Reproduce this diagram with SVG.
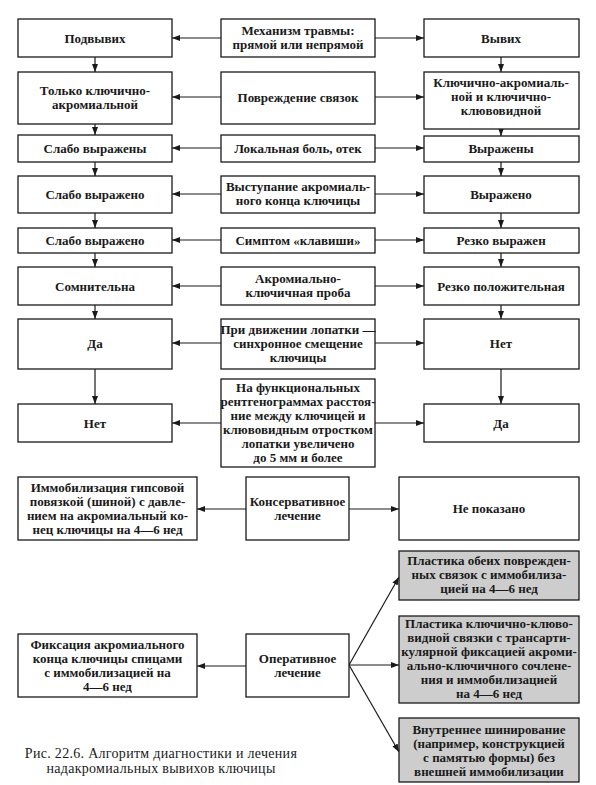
<svg xmlns="http://www.w3.org/2000/svg" width="596" height="785" viewBox="0 0 596 785">
<defs>
<marker id="ah" viewBox="0 0 8 6" markerWidth="8" markerHeight="6" refX="8" refY="3" orient="auto" markerUnits="userSpaceOnUse">
<path d="M0,0 L8,3 L0,6 z" fill="#1a1a1a"/>
</marker>
<style>
rect{fill:#fff;stroke:#1a1a1a;stroke-width:1.3}
rect.g{fill:#cdcdcd}
text{font-family:"Liberation Serif","DejaVu Serif",serif;font-size:13px;font-weight:bold;fill:#1a1a1a;text-anchor:middle}
text.cap{font-weight:normal;font-size:14px;letter-spacing:0.3px}
.c line{stroke:#1a1a1a;stroke-width:1.2;marker-end:url(#ah)}
</style>
</defs>
<rect x="0" y="0" width="596" height="785" style="fill:#fff;stroke:none"/>
<g class="c" id="connectors">
<line x1="221" y1="38" x2="172" y2="38"/>
<line x1="375" y1="38" x2="424" y2="38"/>
<line x1="221" y1="97" x2="172" y2="97"/>
<line x1="375" y1="97" x2="424" y2="97"/>
<line x1="221" y1="148" x2="172" y2="148"/>
<line x1="375" y1="148" x2="424" y2="148"/>
<line x1="221" y1="194" x2="172" y2="194"/>
<line x1="375" y1="194" x2="424" y2="194"/>
<line x1="221" y1="240" x2="172" y2="240"/>
<line x1="375" y1="240" x2="424" y2="240"/>
<line x1="221" y1="286" x2="172" y2="286"/>
<line x1="375" y1="286" x2="424" y2="286"/>
<line x1="221" y1="343" x2="172" y2="343"/>
<line x1="375" y1="343" x2="424" y2="343"/>
<line x1="221" y1="423" x2="172" y2="423"/>
<line x1="375" y1="423" x2="424" y2="423"/>
<line x1="95" y1="57" x2="95" y2="72"/>
<line x1="95" y1="124" x2="95" y2="135"/>
<line x1="95" y1="162" x2="95" y2="176"/>
<line x1="95" y1="213" x2="95" y2="228"/>
<line x1="95" y1="253" x2="95" y2="267"/>
<line x1="95" y1="305" x2="95" y2="319"/>
<line x1="95" y1="369" x2="95" y2="404"/>
<line x1="501" y1="57" x2="501" y2="72"/>
<line x1="501" y1="129" x2="501" y2="136"/>
<line x1="501" y1="162" x2="501" y2="176"/>
<line x1="501" y1="213" x2="501" y2="228"/>
<line x1="501" y1="253" x2="501" y2="267"/>
<line x1="501" y1="305" x2="501" y2="319"/>
<line x1="501" y1="369" x2="501" y2="404"/>
<line x1="246" y1="509" x2="197" y2="509"/>
<line x1="349" y1="509" x2="399" y2="509"/>
<line x1="246" y1="666" x2="197" y2="666"/>
<line x1="349" y1="665" x2="399" y2="577"/>
<line x1="349" y1="665" x2="399" y2="665"/>
<line x1="349" y1="665" x2="399" y2="752"/>
</g>
<g id="n_mech"><rect x="221" y="19" width="154" height="38"/><text x="298" y="35">Механизм травмы:</text><text x="298" y="49">прямой или непрямой</text></g>
<g id="n_podv"><rect x="18" y="19" width="154" height="38"/><text x="95" y="42.5">Подвывих</text></g>
<g id="n_vyv"><rect x="424" y="19" width="155" height="38"/><text x="501" y="42.5">Вывих</text></g>
<g id="n_povr"><rect x="221" y="72" width="154" height="52"/><text x="298" y="102">Повреждение связок</text></g>
<g id="n_tolko"><rect x="18" y="72" width="154" height="52"/><text x="95" y="95">Только ключично-</text><text x="95" y="109">акромиальной</text></g>
<g id="n_kluch"><rect x="424" y="72" width="155" height="57"/><text x="501" y="87">Ключично-акромиаль-</text><text x="501" y="101">ной и ключично-</text><text x="501" y="115">клювовидной</text></g>
<g id="n_bol"><rect x="221" y="135" width="154" height="27"/><text x="298" y="153">Локальная боль, отек</text></g>
<g id="n_sl1"><rect x="18" y="135" width="154" height="27"/><text x="95" y="153">Слабо выражены</text></g>
<g id="n_vyr1"><rect x="424" y="136" width="155" height="26"/><text x="501" y="153">Выражены</text></g>
<g id="n_vyst"><rect x="221" y="176" width="154" height="37"/><text x="298" y="191">Выступание акромиаль-</text><text x="298" y="205">ного конца ключицы</text></g>
<g id="n_sl2"><rect x="18" y="176" width="154" height="37"/><text x="95" y="199">Слабо выражено</text></g>
<g id="n_vyr2"><rect x="424" y="176" width="155" height="37"/><text x="501" y="199">Выражено</text></g>
<g id="n_simp"><rect x="221" y="228" width="154" height="25"/><text x="298" y="245">Симптом «клавиши»</text></g>
<g id="n_sl3"><rect x="18" y="228" width="154" height="25"/><text x="95" y="245">Слабо выражено</text></g>
<g id="n_rez1"><rect x="424" y="228" width="155" height="25"/><text x="501" y="245">Резко выражен</text></g>
<g id="n_prob"><rect x="221" y="267" width="154" height="38"/><text x="298" y="283">Акромиально-</text><text x="298" y="297">ключичная проба</text></g>
<g id="n_somn"><rect x="18" y="267" width="154" height="38"/><text x="95" y="290.5">Сомнительна</text></g>
<g id="n_rez2"><rect x="424" y="267" width="155" height="38"/><text x="501" y="290.5">Резко положительная</text></g>
<g id="n_dviz"><rect x="221" y="319" width="154" height="50"/><text x="298" y="334">При движении лопатки —</text><text x="298" y="348">синхронное смещение</text><text x="298" y="362">ключицы</text></g>
<g id="n_da1"><rect x="18" y="319" width="154" height="50"/><text x="95" y="348">Да</text></g>
<g id="n_net1"><rect x="424" y="319" width="155" height="50"/><text x="501" y="348">Нет</text></g>
<g id="n_rent"><rect x="221" y="379" width="154" height="88"/><text x="298" y="392">На функциональных</text><text x="298" y="406">рентгенограммах расстоя-</text><text x="298" y="420">ние между ключицей и</text><text x="298" y="434">клювовидным отростком</text><text x="298" y="448">лопатки увеличено</text><text x="298" y="462">до 5 мм и более</text></g>
<g id="n_net2"><rect x="18" y="404" width="154" height="38"/><text x="95" y="427.5">Нет</text></g>
<g id="n_da2"><rect x="424" y="404" width="155" height="38"/><text x="501" y="427.5">Да</text></g>
<g id="n_kons"><rect x="246" y="477" width="103" height="63"/><text x="297.5" y="505.5">Консервативное</text><text x="297.5" y="519.5">лечение</text></g>
<g id="n_immob"><rect x="18" y="477" width="179" height="63"/><text x="107.5" y="492">Иммобилизация гипсовой</text><text x="107.5" y="506">повязкой (шиной) с давле-</text><text x="107.5" y="520">нием на акромиальный ко-</text><text x="107.5" y="534">нец ключицы на 4—6 нед</text></g>
<g id="n_nepok"><rect x="399" y="477" width="180" height="63"/><text x="489" y="513">Не показано</text></g>
<g id="n_oper"><rect x="246" y="634" width="103" height="63"/><text x="297.5" y="662.5">Оперативное</text><text x="297.5" y="676.5">лечение</text></g>
<g id="n_fiks"><rect x="18" y="634" width="179" height="63"/><text x="107.5" y="649">Фиксация акромиального</text><text x="107.5" y="663">конца ключицы спицами</text><text x="107.5" y="677">с иммобилизацией на</text><text x="107.5" y="691">4—6 нед</text></g>
<g id="n_pl1"><rect class="g" x="399" y="551" width="180" height="49"/><text x="489" y="565">Пластика обеих поврежден-</text><text x="489" y="579">ных связок с иммобилиза-</text><text x="489" y="593">цией на 4—6 нед</text></g>
<g id="n_pl2"><rect class="g" x="399" y="616" width="180" height="87"/><text x="489" y="628">Пластика ключично-клюво-</text><text x="489" y="642">видной связки с трансарти-</text><text x="489" y="656">кулярной фиксацией акроми-</text><text x="489" y="670">ально-ключичного сочлене-</text><text x="489" y="684">ния и иммобилизацией</text><text x="489" y="698">на 4—6 нед</text></g>
<g id="n_vnutr"><rect class="g" x="399" y="718" width="180" height="64"/><text x="489" y="734">Внутреннее шинирование</text><text x="489" y="748">(например, конструкцией</text><text x="489" y="762">с памятью формы) без</text><text x="489" y="776">внешней иммобилизации</text></g>
<g id="caption"><text class="cap" x="161" y="758">Рис. 22.6. Алгоритм диагностики и лечения</text><text class="cap" x="161" y="773">надакромиальных вывихов ключицы</text></g>
</svg>
